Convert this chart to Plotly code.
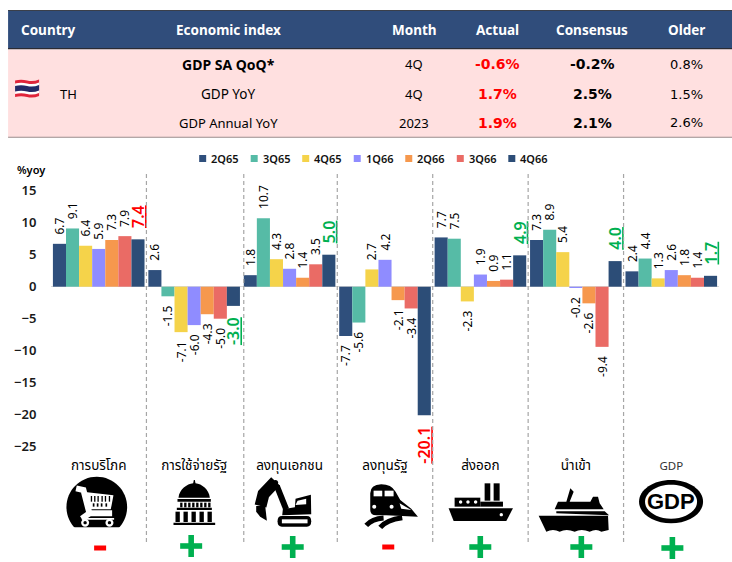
import re
import plotly.graph_objects as go

# ---------- data ----------
categories = ["การบริโภค", "การใช้จ่ายรัฐ", "ลงทุนเอกชน", "ลงทุนรัฐ", "ส่งออก", "นำเข้า", "GDP"]
q2_65 = [6.7, 2.6, 1.8, -7.7, 7.7, 7.3, 2.4]
q3_65 = [9.1, -1.5, 10.7, -5.6, 7.5, 8.9, 4.4]
q4_65 = [6.4, -7.1, 4.3, 2.7, -2.3, 5.4, 1.3]
q1_66 = [5.9, -6.0, 2.8, 4.2, 1.9, -0.2, 2.6]
q2_66 = [7.3, -4.3, 1.4, -2.1, 0.9, -2.6, 1.8]
q3_66 = [7.9, -5.0, 3.5, -3.4, 1.1, -9.4, 1.4]
q4_66 = [7.4, -3.0, 5.0, -20.1, 4.9, 4.0, 1.7]
q4_66_colors = ["#FF0000", "#00B050", "#00B050", "#FF0000", "#00B050", "#00B050", "#00B050"]
series_names = ["2Q65", "3Q65", "4Q65", "1Q66", "2Q66", "3Q66", "4Q66"]
series_colors = ["#2F4F7C", "#56BBA6", "#F5D34A", "#8F8CFF", "#F6984D", "#EA6B65", "#2C4D77"]
y_ticks = [15, 10, 5, 0, -5, -10, -15, -20, -25]
separators = [0.5, 1.52, 2.5, 3.5, 4.5, 5.5]

table_headers = ["Country", "Economic index", "Month", "Actual", "Consensus", "Older"]
table_index = ["GDP SA QoQ*", "GDP YoY", "GDP Annual YoY"]
table_index_sizes = [14, 13.5, 13]
table_month = ["4Q", "4Q", "2023"]
table_actual = ["-0.6%", "1.7%", "1.9%"]
table_consensus = ["-0.2%", "2.5%", "2.1%"]
table_older = ["0.8%", "1.5%", "2.6%"]
signs = ["-", "+", "+", "-", "+", "+", "+"]

FONT = "Noto Sans, Noto Sans Thai, sans-serif"
WIDE = "DejaVu Sans, sans-serif"
W, H = 732, 562
X0, X1, Y0, Y1 = 50.9, 718.6, 170, 452
ZERO_Y = 286.7
PX_PER_UNIT = 6.4


def px(x):
    return (x - X0) / (X1 - X0)


def py(y):
    return (Y1 - y) / (Y1 - Y0)


shapes = []
annotations = []


def rect(x0, y0, x1, y1, color):
    shapes.append(dict(type="rect", xref="paper", yref="paper", x0=px(x0), x1=px(x1), y0=py(y1), y1=py(y0),
                       fillcolor=color, line=dict(width=0), layer="above"))


def conv(path, ox=0.0, oy=0.0, s=1.0):
    def rep(m):
        return f"{px(float(m.group(1)) * s + ox):.5f},{py(float(m.group(2)) * s + oy):.5f}"
    return re.sub(r"(-?[\d.]+),(-?[\d.]+)", rep, path)


def fill(path, color="#000000", ox=0.0, oy=450.0, s=1 / 3):
    shapes.append(dict(type="path", xref="paper", yref="paper", path=conv(path, ox, oy, s), fillcolor=color,
                       line=dict(width=0), layer="above"))


def stroke(path, width, color="#000000", ox=0.0, oy=450.0, s=1 / 3):
    shapes.append(dict(type="path", xref="paper", yref="paper", path=conv(path, ox, oy, s),
                       line=dict(width=width, color=color), layer="above"))


def ell(cx, cy, rx, ry=None):
    ry = rx if ry is None else ry
    kx, ky = rx * 0.5523, ry * 0.5523
    return (f"M {cx - rx},{cy} C {cx - rx},{cy - ky} {cx - kx},{cy - ry} {cx},{cy - ry} "
            f"C {cx + kx},{cy - ry} {cx + rx},{cy - ky} {cx + rx},{cy} "
            f"C {cx + rx},{cy + ky} {cx + kx},{cy + ry} {cx},{cy + ry} "
            f"C {cx - kx},{cy + ry} {cx - rx},{cy + ky} {cx - rx},{cy} Z")


def box(x0, y0, x1, y1):
    return f"M {x0},{y0} L {x1},{y0} L {x1},{y1} L {x0},{y1} Z"


def text(x, y, s, size=13, color="#000000", bold=False, family=FONT, xanchor="center", weight=None):
    f = dict(size=size, color=color, family=family)
    if weight:
        f["weight"] = weight
    annotations.append(dict(xref="paper", yref="paper", x=px(x), y=py(y), text=f"<b>{s}</b>" if bold else s,
                            showarrow=False, xanchor=xanchor, yanchor="middle", font=f))


# ---------- table ----------
rect(8, 10, 732, 49, "#304D7B")
rect(8, 10, 732, 11, "#3A3F4A")
rect(8, 48, 732, 49.5, "#2B2B33")
rect(8, 49.5, 732, 137, "#FFE0E0")
rect(8, 136.7, 732, 137.7, "#9A8A8A")

col_x = [48, 228, 414, 497, 592, 686]
for x, h in zip(col_x, table_headers):
    text(x, 30, h, size=13.5, color="#FFFFFF", bold=True)
row_y = [64, 94, 123]
text(68, 94, "TH", size=13)
for i, y in enumerate(row_y):
    text(col_x[1], y, table_index[i], size=table_index_sizes[i], bold=(i == 0))
    text(col_x[2], y, table_month[i], size=13)
    text(col_x[3], y, table_actual[i], size=14, color="#FF0000", bold=True, family=WIDE)
    text(col_x[4], y, table_consensus[i], size=14, bold=True, family=WIDE)
    text(col_x[5], y, table_older[i], size=13, family=WIDE)

# flag
for (a, b, c) in [(80.5, 97, "#E0243A"), (83.5, 94, "#FFFFFF"), (86, 91.5, "#232A66")]:
    fill(f"M 15,{a} Q 21,{a - 1.5} 27,{a} Q 33,{a + 1.5} 39,{a - 1} L 39,{b - 1} Q 33,{b + 1.5} 27,{b} "
         f"Q 21,{b - 1.5} 15,{b} Z", c, 0, 0, 1)

# ---------- legend ----------
for k, (name, col) in enumerate(zip(series_names, series_colors)):
    x = 199 + k * 51.5
    rect(x, 155, x + 7, 162, col)
    text(x + 10, 158.8, name, size=11, color="#111111", xanchor="left", weight=600)

text(31, 169, "%yoy", size=11, weight=600)

# ---------- separators ----------
for s in separators:
    x = X0 + (s + 0.5) * (X1 - X0) / 7
    shapes.append(dict(type="line", xref="paper", yref="paper", x0=px(x), x1=px(x), y0=py(174), y1=py(543),
                       line=dict(color="#A6A6A6", width=1.2, dash="4px,3px"), layer="above"))

# ---------- icons ----------
# cart
fill(ell(290, 171, 91))
fill(box(190, 232, 390, 275), "#FFFFFF")
stroke("M 228,115 L 250,120 L 268,190 L 336,190", 6, "#FFFFFF")
fill("M 255,126 L 340,136 L 332,178 L 266,178 Z", "#FFFFFF")
for x in [272, 282, 292, 304, 314, 326]:
    fill(box(x, 138, x + 4, 155))
for x in [278, 290, 302, 316]:
    fill(box(x, 160, x + 5, 170))
fill(box(245, 204, 342, 209), "#FFFFFF")
stroke("M 268,190 L 245,206", 6, "#FFFFFF")
for x in [255, 328]:
    fill(ell(x, 218, 12), "#FFFFFF")
    fill(ell(x, 218, 5))

# capitol
fill("M 535,143 C 538,118 560,102 579,100 L 581,90 L 584,90 L 586,100 C 605,102 626,118 629,143 Z")
fill(box(532, 147, 632, 155))
for x in range(540, 625, 12):
    fill(box(x, 158, x + 7, 172))
fill(box(530, 173, 635, 180))
for x in range(526, 640, 24):
    fill(box(x, 185, x + 13, 216))
fill(box(520, 218, 645, 225))

# excavator
stroke("M 826,94 L 790,132 L 781,168", 12)
stroke("M 830,108 L 858,178", 6)
fill(ell(826, 98, 8))
fill("M 768,168 L 795,168 L 800,212 L 780,200 L 768,185 Z")
fill("M 848,178 L 884,172 L 886,146 L 932,134 L 933,193 L 846,196 Z")
fill("M 892,152 L 918,146 L 918,163 L 886,165 Z", "#FFFFFF")
fill("M 845,198 L 920,198 Q 933,198 933,214 Q 933,230 920,230 L 845,230 Q 832,230 832,214 Q 832,198 845,198 Z")
fill(box(845, 208, 922, 220), "#FFFFFF")

# train
Z6 = dict(ox=366.0, oy=450.0)
fill("M 12,180 L 12,130 Q 12,104 45,103 Q 75,103 88,125 L 102,150 L 135,176 L 155,200 L 60,196 L 30,196 Q 12,196 12,180 Z", **Z6)
fill(box(22, 122, 48, 139), "#FFFFFF", **Z6)
fill(box(55, 122, 82, 139), "#FFFFFF", **Z6)
fill("M 100,160 L 135,180 L 105,176 Z", "#FFFFFF", **Z6)
fill(ell(24, 170, 6), "#FFFFFF", **Z6)
fill(ell(76, 170, 6), "#FFFFFF", **Z6)
stroke("M 0,226 Q 18,206 52,204", 5, **Z6)
stroke("M 42,232 Q 60,210 108,203", 5, **Z6)

# export ship
fill(box(355, 100, 372, 152), **Z6)
fill(box(382, 100, 400, 152), **Z6)
fill(box(265, 143, 342, 170), **Z6)
fill(box(342, 155, 410, 170), **Z6)
for x in [283, 305, 328]:
    fill(ell(x, 156, 5), "#FFFFFF", **Z6)
fill("M 247,175 L 440,175 L 420,213 L 262,213 Z", **Z6)
fill(ell(405, 194, 5), "#FFFFFF", **Z6)

# import ship
fill("M 517,197 L 725,197 L 727,240 L 705,245 Q 690,235 670,245 Q 645,235 625,245 Q 600,235 580,245 Q 560,235 540,245 Z", **Z6)
fill("M 565,178 L 575,155 L 600,155 L 612,115 L 622,125 L 610,155 L 672,155 L 680,140 L 695,140 L 700,160 L 712,178 Z", **Z6)
fill("M 570,184 L 715,184 L 728,196 L 570,190 Z", **Z6)

# GDP badge
fill(ell(914, 155, 96, 65), **Z6)
fill(ell(914, 155, 78, 51), "#FFFFFF", **Z6)
text(366 + 914 / 3, 450 + 155 / 3, "GDP", size=22, bold=True, family="Liberation Sans Narrow, Liberation Sans")

# ---------- plus / minus ----------
sign_x = [100, 191, 292.5, 388, 480, 581, 672]
sign_y = [548, 546, 547, 547, 547, 547, 548]
for x, y, s in zip(sign_x, sign_y, signs):
    if s == "+":
        rect(x - 11, y - 2.8, x + 11, y + 2.8, "#00B050")
        rect(x - 2.8, y - 11, x + 2.8, y + 11, "#00B050")
    else:
        rect(x - 6, y - 2.5, x + 6, y + 2.5, "#FF0000")

# ---------- chart ----------
fig = go.Figure()
all_values = [q2_65, q3_65, q4_65, q1_66, q2_66, q3_66, q4_66]
for k, (name, vals, col) in enumerate(zip(series_names, all_values, series_colors)):
    last = k == 6
    pad = "\u00a0"
    labels = []
    for v in vals:
        t = f"{v:.1f}"
        if last:
            t = f"<u>{t}</u>"
        labels.append(pad * 2 + t if v > 0 else t + pad * 2)
    tf = dict(size=16 if last else 12, color=q4_66_colors if last else "#000000", family=FONT)
    if last:
        tf["weight"] = 600
    fig.add_trace(go.Bar(
        name=name, x=categories, y=vals, marker=dict(color=col, line=dict(width=0)),
        text=labels, textposition="outside", textangle=-90, cliponaxis=False,
        textfont=tf, constraintext="none", hoverinfo="skip",
    ))

tick_labels = [c if c != "GDP" else "<span style='font-size:11.5px;color:#333333'>GDP</span>" for c in categories]
fig.update_layout(
    width=W, height=H, barmode="group", bargap=0.04, bargroupgap=0, showlegend=False,
    margin=dict(l=X0, r=W - X1, t=Y0, b=H - Y1, pad=0, autoexpand=False),
    paper_bgcolor="#FFFFFF", plot_bgcolor="#FFFFFF", font=dict(family=FONT, color="#000000"),
    xaxis=dict(type="category", categoryorder="array", categoryarray=categories, range=[-0.5, 6.5],
               tickmode="array", tickvals=categories, ticktext=tick_labels,
               showgrid=False, showline=False, ticks="outside", ticklen=1, tickcolor="rgba(0,0,0,0)",
               tickfont=dict(size=13.5, family=FONT, color="#000000")),
    yaxis=dict(range=[-(Y1 - ZERO_Y) / PX_PER_UNIT, (ZERO_Y - Y0) / PX_PER_UNIT], tickmode="array",
               tickvals=y_ticks, showgrid=False, showline=False, zeroline=True, zerolinecolor="#D9D9D9",
               zerolinewidth=1.5, ticks="outside", ticklen=11, tickcolor="rgba(0,0,0,0)",
               tickfont=dict(size=13, family=FONT, color="#1A1A1A", weight=600)),
    shapes=shapes, annotations=annotations,
)
fig.write_html("out.html", config=dict(displayModeBar=False, staticPlot=True),
               post_script="document.body.style.margin='0';document.documentElement.style.overflow='hidden';")
